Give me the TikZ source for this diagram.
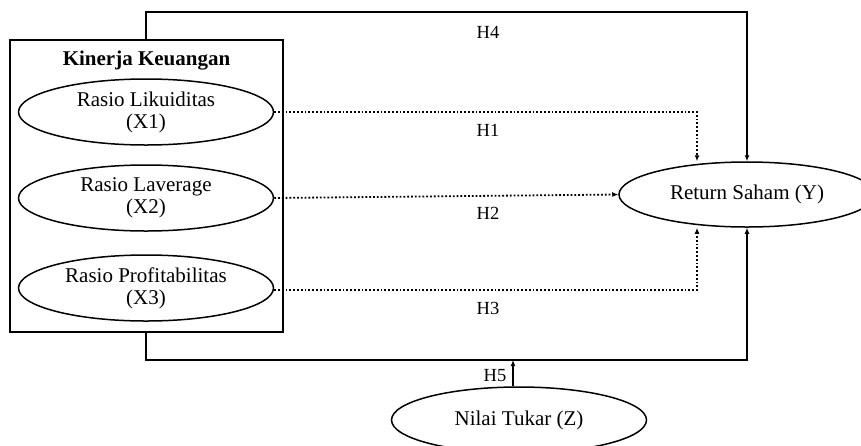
\documentclass[tikz,border=0pt]{standalone}
\usepackage{fontspec}
\setmainfont{Liberation Serif}
\usetikzlibrary{shapes.geometric,arrows.meta}
\begin{document}
\begin{tikzpicture}[x=1pt,y=-1pt,
  txt/.style={font=\fontsize{21}{22}\selectfont},
  var/.style={ellipse,draw,line width=1.5pt,inner sep=0pt,align=center,txt,
              minimum width=255pt,minimum height=66pt},
  hlab/.style={font=\fontsize{18.5}{20}\selectfont},
  solidline/.style={line width=1.9pt},
  dotline/.style={line width=1.8pt,dotted},
  tip/.style={-{Latex[length=6pt,width=5pt]}}]
\useasboundingbox (0,0) rectangle (861,445);

% Financial performance group
\node[draw,line width=1.9pt,minimum width=273pt,minimum height=292pt,inner sep=0pt]
  (group) at (146.5,186) {};
\node[font=\fontsize{21}{22}\selectfont\bfseries] (title) at (146.5,61) {Kinerja Keuangan};
\node[var] (x1) at (146,112) {Rasio Likuiditas\\(X1)};
\node[var] (x2) at (146,198) {Rasio Laverage\\(X2)};
\node[var] (x3) at (146,288) {Rasio Profitabilitas\\(X3)};

% Dependent and moderating variables
\node[var,minimum width=256pt,minimum height=65pt] (y) at (747,194.5) {Return Saham (Y)};
\node[var,minimum width=255pt,minimum height=66pt] (z) at (519,420) {Nilai Tukar (Z)};

% Helper corners
\coordinate (t1) at (146,12);
\coordinate (t2) at (747,12);
\coordinate (b1) at (146,360);
\coordinate (b2) at (747,360);
\coordinate (d1) at (697,112);
\coordinate (d3) at (697,290);
\coordinate (zt) at ([xshift=-6pt]z.north);

% H4 and combined path via the bottom
\draw[solidline,tip] (group.north -| t1) -- (t1) -- (t2) -- (y.north);
\draw[solidline,tip] (group.south -| b1) -- (b1) -- (b2) -- (y.south);
\draw[solidline,tip] (zt) -- (zt |- b1);

% Individual hypotheses
\draw[dotline,tip] (x1.east) -- (d1) -- (d1 |- y.north);
\draw[dotline,tip] (x2.east) -- (y.west);
\draw[dotline,tip] (x3.east |- d3) -- (d3) -- (d3 |- y.south);

% Labels
\node[hlab] (h4) at (488,32) {H4};
\node[hlab] (h1) at (488,130) {H1};
\node[hlab] (h2) at (488,213) {H2};
\node[hlab] (h3) at (488,308) {H3};
\node[hlab] (h5) at (495,376) {H5};
\end{tikzpicture}
\end{document}
